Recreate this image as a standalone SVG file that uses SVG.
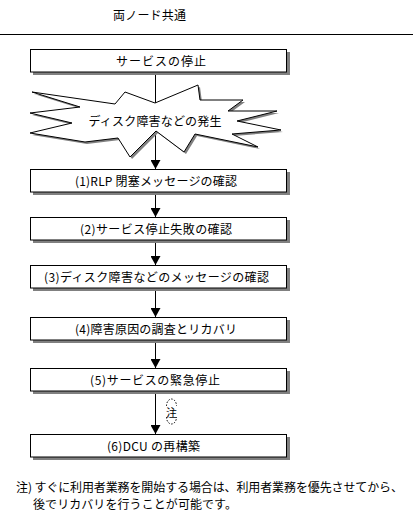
<svg xmlns="http://www.w3.org/2000/svg" width="417" height="524" viewBox="0 0 417 524">
<style>
text{font-family:"Noto Sans CJK JP","Noto Sans",sans-serif;font-size:12px;fill:#000;}
.c{text-anchor:middle;dominant-baseline:central;}
.box{fill:#fff;stroke:#000;stroke-width:1;}
.sh{fill:#808080;}
.ln{stroke:#000;stroke-width:1;fill:none;}
</style>
<defs>
<marker id="ah" markerUnits="userSpaceOnUse" markerWidth="9" markerHeight="10" viewBox="0 -5 9 10" refX="9" refY="0" orient="auto">
<path d="M0,-5 L9,0 L0,5 Z" fill="#000"/>
</marker>
</defs>
<rect width="417" height="524" fill="#fff"/>
<g id="title">
<text x="113" y="14" style="dominant-baseline:central" textLength="73" lengthAdjust="spacing">両ノード共通</text>
<line x1="0" y1="34.5" x2="413" y2="34.5" class="ln"/>
</g>
<g id="connectors">
<line x1="155.5" y1="72" x2="155.5" y2="103" class="ln"/>
<line x1="155.5" y1="131" x2="155.5" y2="169" class="ln" marker-end="url(#ah)"/>
<line x1="155.5" y1="192" x2="155.5" y2="217" class="ln" marker-end="url(#ah)"/>
<line x1="155.5" y1="240" x2="155.5" y2="265" class="ln" marker-end="url(#ah)"/>
<line x1="155.5" y1="288" x2="155.5" y2="317" class="ln" marker-end="url(#ah)"/>
<line x1="155.5" y1="340" x2="155.5" y2="368" class="ln" marker-end="url(#ah)"/>
<line x1="155.5" y1="391" x2="155.5" y2="434" class="ln" marker-end="url(#ah)"/>
<g id="note-mark">
<path d="M166.5,406 A5,7 0 0 1 176.5,406" fill="none" stroke="#000" stroke-width="1" stroke-dasharray="1.5 1.5"/>
<path d="M166.5,417 A5,7 0 0 0 176.5,417" fill="none" stroke="#000" stroke-width="1" stroke-dasharray="1.5 1.5"/>
<text x="171.5" y="411.5" class="c" style="font-size:11px">注</text>
</g>
</g>
<g id="n0">
<rect x="33" y="52" width="257" height="23" class="sh"/>
<rect x="30.5" y="49.5" width="256" height="22.5" class="box"/>
<text x="161" y="60.5" class="c" textLength="90" lengthAdjust="spacing">サービスの停止</text>
</g>
<g id="burst">
<polygon class="sh" transform="translate(2,2)" points="32,92 115,104 125,92 155,103 198,85 200,100 243,100 228,111 277,111 237,121 281,130 232,134 258,147 195,134 184,152 156,131 130,157 118,138 85,142 30,133 72,123 30,113 80,107"/>
<polygon class="box" points="32,92 115,104 125,92 155,103 198,85 200,100 243,100 228,111 277,111 237,121 281,130 232,134 258,147 195,134 184,152 156,131 130,157 118,138 85,142 30,133 72,123 30,113 80,107"/>
<text x="155" y="120" class="c" textLength="133" lengthAdjust="spacing">ディスク障害などの発生</text>
</g>
<g id="n1">
<rect x="33" y="172" width="257" height="23" class="sh"/>
<rect x="30.5" y="169.5" width="256" height="22.5" class="box"/>
<text x="156" y="180.5" class="c" textLength="162" lengthAdjust="spacing">(1)RLP 閉塞メッセージの確認</text>
</g>
<g id="n2">
<rect x="33" y="220" width="257" height="23" class="sh"/>
<rect x="30.5" y="217.5" width="256" height="22.5" class="box"/>
<text x="156" y="228.5" class="c" textLength="152" lengthAdjust="spacing">(2)サービス停止失敗の確認</text>
</g>
<g id="n3">
<rect x="33" y="268" width="257" height="23" class="sh"/>
<rect x="30.5" y="265.5" width="256" height="22.5" class="box"/>
<text x="156.5" y="276.5" class="c" textLength="225" lengthAdjust="spacing">(3)ディスク障害などのメッセージの確認</text>
</g>
<g id="n4">
<rect x="33" y="320" width="257" height="23" class="sh"/>
<rect x="30.5" y="317.5" width="256" height="22.5" class="box"/>
<text x="156" y="328.5" class="c" textLength="162" lengthAdjust="spacing">(4)障害原因の調査とリカバリ</text>
</g>
<g id="n5">
<rect x="33" y="371" width="257" height="23" class="sh"/>
<rect x="30.5" y="368.5" width="256" height="22.5" class="box"/>
<text x="155" y="379.5" class="c" textLength="130" lengthAdjust="spacing">(5)サービスの緊急停止</text>
</g>
<g id="n6">
<rect x="33" y="437" width="257" height="23" class="sh"/>
<rect x="30.5" y="434.5" width="256" height="22.5" class="box"/>
<text x="153.5" y="445.5" class="c" textLength="93" lengthAdjust="spacing">(6)DCU の再構築</text>
</g>
<g id="footnote">
<text x="16" y="486.5" style="dominant-baseline:central" textLength="387" lengthAdjust="spacing">注) すぐに利用者業務を開始する場合は、利用者業務を優先させてから、</text>
<text x="33" y="503" style="dominant-baseline:central" textLength="204" lengthAdjust="spacing">後でリカバリを行うことが可能です。</text>
</g>
</svg>
